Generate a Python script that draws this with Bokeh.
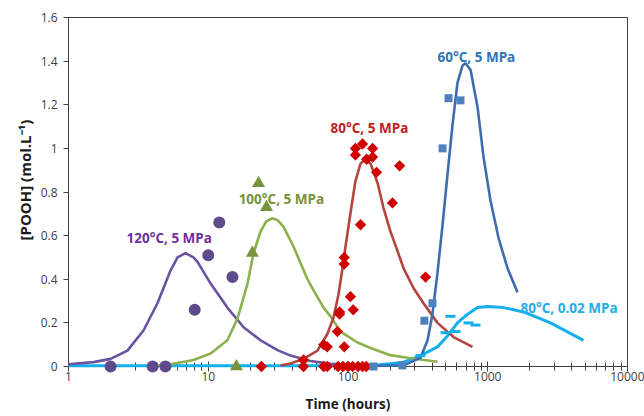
from bokeh.plotting import figure
from bokeh.models import Range1d, FixedTicker, CustomJSTickFormatter, Title
from bokeh.core.properties import value
from bokeh.embed import file_html
from bokeh.resources import INLINE
import math

FONT = "Open Sans"

# ---------------- data ----------------
x_major_ticks = [1, 10, 100, 1000, 10000]
y_ticks = [0, 0.2, 0.4, 0.6, 0.8, 1.0, 1.2, 1.4, 1.6]

# 120 C, 5 MPa
purple_pts_t = [2.0, 4.0, 4.94, 8.0, 10.0, 12.0, 14.9]
purple_pts_y = [0, 0, 0, 0.26, 0.51, 0.66, 0.41]
purple_fit_t = [1.0, 1.51, 2.0, 2.64, 3.44, 4.33, 5.37, 6.03, 6.87, 7.84, 8.38, 10.4, 13.7, 17.9, 23.7, 31.3, 38.8, 53.9, 75.0, 104]
purple_fit_y = [0.01, 0.02, 0.035, 0.073, 0.165, 0.29, 0.44, 0.50, 0.52, 0.50, 0.48, 0.38, 0.27, 0.18, 0.12, 0.075, 0.05, 0.025, 0.012, 0.005]

# 100 C, 5 MPa
green_pts_t = [15.9, 20.7, 22.9, 26.1]
green_pts_y = [0, 0.52, 0.84, 0.73]
green_fit_t = [4.33, 5.37, 7.84, 10.4, 13.7, 16.2, 19.1, 21.1, 23.7, 26.0, 28.8, 31.5, 34.6, 40.7, 51.3, 56.6, 66.8, 75.0, 88.4, 117, 145, 201, 267, 437]
green_fit_y = [0.003, 0.01, 0.03, 0.06, 0.12, 0.22, 0.38, 0.52, 0.62, 0.665, 0.68, 0.67, 0.64, 0.55, 0.40, 0.35, 0.27, 0.23, 0.16, 0.11, 0.085, 0.052, 0.04, 0.022]

# 80 C, 5 MPa
red_pts_t = [24, 48, 67, 71, 85, 92, 100, 108, 118, 127, 135,
             48, 67, 71, 84, 87, 87, 94, 94, 94, 104, 109, 113, 113, 123, 127, 136, 150, 150, 160, 208, 234, 359]
red_pts_y = [0, 0, 0, 0, 0, 0, 0, 0, 0, 0, 0,
             0.03, 0.10, 0.09, 0.16, 0.24, 0.25, 0.09, 0.47, 0.50, 0.32, 0.26, 0.97, 1.0, 0.65, 1.02, 0.95, 0.96, 1.0, 0.89, 0.75, 0.92, 0.41]
red_fit_t = [32.9, 38.8, 48.0, 60.5, 71.3, 78.8, 85.5, 91.3, 96.0, 104, 113, 123, 133, 145, 163, 179, 201, 226, 250, 294, 347, 437, 569, 778]
red_fit_y = [0.005, 0.014, 0.035, 0.073, 0.15, 0.225, 0.33, 0.45, 0.55, 0.70, 0.85, 0.93, 0.95, 0.93, 0.84, 0.73, 0.62, 0.53, 0.45, 0.36, 0.29, 0.20, 0.135, 0.09]

# 60 C, 5 MPa
blue_pts_t = [152, 245, 352, 402, 475, 524, 638]
blue_pts_y = [0, 0.005, 0.21, 0.29, 1.0, 1.23, 1.22]
blue_fit_t = [145, 250, 330, 371, 402, 437, 475, 515, 560, 607, 660, 693, 753, 845, 933, 1047, 1194, 1385, 1633]
blue_fit_y = [0.002, 0.005, 0.04, 0.12, 0.24, 0.43, 0.65, 0.88, 1.11, 1.30, 1.38, 1.39, 1.36, 1.19, 0.96, 0.76, 0.59, 0.45, 0.34]

# 80 C, 0.02 MPa
lb_pts_t = [330, 499, 541, 588, 728, 817]
lb_pts_y = [0.05, 0.155, 0.23, 0.16, 0.20, 0.19]
lb_fit_t = [1, 145, 250, 330, 437, 515, 607, 716, 845, 996, 1297, 1803, 2812, 4843]
lb_fit_y = [0.004, 0.004, 0.02, 0.05, 0.09, 0.14, 0.20, 0.24, 0.27, 0.275, 0.27, 0.25, 0.20, 0.12]

labels_text = ["120°C, 5 MPa", "100°C, 5 MPa", "80°C, 5 MPa", "60°C, 5 MPa", "80°C, 0.02 MPa"]
labels_t = [2.6, 16.5, 75.0, 437, 1715]
labels_y = [0.587, 0.77, 1.092, 1.417, 0.27]
labels_color = ["#7030A0", "#76923C", "#C0201E", "#2E75B6", "#1FAEE6"]

# ---------------- figure ----------------
p = figure(width=644, height=416, x_axis_type="log",
           x_range=Range1d(1, 10000), y_range=Range1d(0, 1.6),
           output_backend="svg", toolbar_location=None,
           min_border_left=68, min_border_right=17, min_border_top=17, min_border_bottom=50)
p.grid.visible = False
p.outline_line_color = "#404040"
p.outline_line_width = 1
p.background_fill_color = "white"
p.border_fill_color = "white"

minor = [m * d for d in [1, 10, 100, 1000] for m in range(2, 10)]
p.xaxis.ticker = FixedTicker(ticks=x_major_ticks, minor_ticks=minor)
p.xaxis.formatter = CustomJSTickFormatter(code="return tick.toFixed(0);")
p.yaxis.ticker = FixedTicker(ticks=y_ticks)
p.yaxis.formatter = CustomJSTickFormatter(code="return (Math.round(tick*10)/10).toString();")

for ax in [p.xaxis[0], p.yaxis[0]]:
    ax.axis_line_color = "#404040"
    ax.major_tick_line_color = "#404040"
    ax.minor_tick_line_color = "#404040"
    ax.major_label_text_font = FONT
    ax.major_label_text_font_size = "12px"
    ax.major_label_text_color = "#404040"
    ax.axis_label_text_font = FONT
    ax.axis_label_text_font_style = "bold"
    ax.axis_label_text_font_size = "13.5px"
    ax.axis_label_text_color = "#1a1a1a"

p.xaxis.major_tick_in = 5
p.xaxis.major_tick_out = 5
p.xaxis.minor_tick_in = 4
p.xaxis.minor_tick_out = 4
p.xaxis.major_label_standoff = 0
p.xaxis.axis_label = "Time (hours)"
p.xaxis.axis_label_standoff = 11

p.yaxis.major_tick_in = 0
p.yaxis.major_tick_out = 5
p.yaxis.minor_tick_line_color = None
p.yaxis.major_label_standoff = 6

ytitle = Title(text="[POOH] (mol.L⁻¹)", align="left", offset=126,
               text_font=FONT, text_font_style="bold", text_font_size="15px",
               text_color="#1a1a1a", standoff=6)
p.add_layout(ytitle, "left")

# ---------------- fitted curves ----------------
lw = 2.6
p.line(lb_fit_t, lb_fit_y, line_color="#14B0EC", line_width=3, level="overlay")
p.line(purple_fit_t, purple_fit_y, line_color="#6B52A0", line_width=lw, level="overlay")
p.line(green_fit_t, green_fit_y, line_color="#8DB04C", line_width=lw, level="overlay")
p.line(red_fit_t, red_fit_y, line_color="#B4443F", line_width=lw, level="overlay")
p.line(blue_fit_t, blue_fit_y, line_color="#3D6DB0", line_width=lw, level="overlay")

# ---------------- experimental points ----------------
p.scatter(purple_pts_t, purple_pts_y, marker="circle", size=12, fill_color="#5F4B8B", line_color=None, level="overlay")
p.scatter(green_pts_t, green_pts_y, marker="triangle", size=13, fill_color="#77933C", line_color=None, level="overlay")
p.scatter(red_pts_t, red_pts_y, marker="square", angle=math.pi / 4, size=8, fill_color="#D00000", line_color=None, level="overlay")
p.scatter(blue_pts_t, blue_pts_y, marker="square", size=8, fill_color="#4F81BD", line_color=None, level="overlay")
p.scatter(lb_pts_t, lb_pts_y, marker="dash", size=10, line_color="#14B0EC", line_width=3, level="overlay")

# ---------------- series labels ----------------
p.text(x=labels_t, y=labels_y, text=labels_text, text_color=labels_color,
       text_font=value(FONT), text_font_style="bold", text_font_size="13.5px",
       text_align="left", text_baseline="middle", level="overlay")

open("out.html", "w").write(file_html(p, INLINE))
